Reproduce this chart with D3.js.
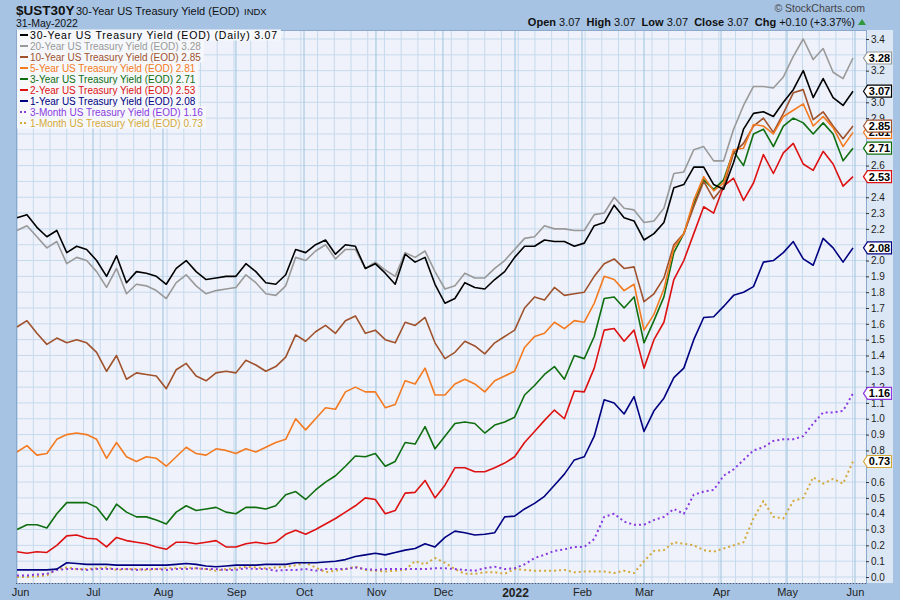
<!DOCTYPE html>
<html>
<head>
<meta charset="utf-8">
<script src="https://cdn.jsdelivr.net/npm/d3@7/dist/d3.min.js"></script>
<style>
  body { margin: 0; background: #a6c3e4; }
  svg { display: block; font-family: Arial, "Liberation Sans", sans-serif; }
</style>
</head>
<body>
<svg id="chart" width="900" height="600"></svg>
<script>
// Month labels and where they fall, in sample-index units (trading days / ~3)
const monthLabels = ['Jun', 'Jul', 'Aug', 'Sep', 'Oct', 'Nov', 'Dec', '2022', 'Feb', 'Mar', 'Apr', 'May', 'Jun'];
const monthPositions = [0, 7.64, 14.67, 22.0, 28.84, 36.07, 42.8, 50.04, 56.77, 63.0, 70.74, 77.37, 84.2];

const yTicks = [0.0, 0.1, 0.2, 0.3, 0.4, 0.5, 0.6, 0.7, 0.8, 0.9, 1.0, 1.1, 1.2, 1.3, 1.4, 1.5, 1.6, 1.7,
    1.8, 1.9, 2.0, 2.1, 2.2, 2.3, 2.4, 2.5, 2.6, 2.7, 2.8, 2.9, 3.0, 3.1, 3.2, 3.3, 3.4];

// Yields, Jun 2021 - May 2022, one reading roughly every third trading day
const y30 = [2.27, 2.29, 2.21, 2.15, 2.19, 2.05, 2.09, 2.07, 2.00, 1.90,
    2.03, 1.86, 1.93, 1.92, 1.90, 1.85, 1.95, 2.00, 1.93, 1.88,
    1.89, 1.90, 1.90, 1.98, 1.93, 1.86, 1.85, 1.91, 2.07, 2.05,
    2.10, 2.13, 2.04, 2.10, 2.09, 1.95, 1.98, 1.92, 1.85, 2.04,
    1.99, 2.02, 1.85, 1.73, 1.76, 1.86, 1.83, 1.82, 1.88, 1.93,
    2.02, 2.09, 2.09, 2.13, 2.12, 2.12, 2.09, 2.11, 2.22, 2.24,
    2.35, 2.27, 2.25, 2.13, 2.17, 2.24, 2.46, 2.48, 2.59, 2.59,
    2.48, 2.45, 2.62, 2.83, 2.93, 2.94, 2.91, 3.00, 3.08, 3.20,
    3.03, 3.15, 3.03, 2.98, 3.07];

const y20 = [2.19, 2.22, 2.15, 2.08, 2.12, 1.98, 2.02, 2.00, 1.93, 1.83,
    1.95, 1.79, 1.85, 1.84, 1.81, 1.76, 1.86, 1.91, 1.84, 1.79,
    1.81, 1.82, 1.83, 1.91, 1.86, 1.79, 1.78, 1.84, 2.02, 2.00,
    2.06, 2.10, 2.01, 2.07, 2.07, 1.95, 1.99, 1.94, 1.90, 2.05,
    2.02, 2.06, 1.93, 1.82, 1.84, 1.92, 1.89, 1.89, 1.95, 2.00,
    2.07, 2.14, 2.15, 2.22, 2.20, 2.20, 2.19, 2.19, 2.29, 2.30,
    2.40, 2.33, 2.32, 2.24, 2.25, 2.33, 2.55, 2.56, 2.70, 2.72,
    2.63, 2.63, 2.83, 2.98, 3.10, 3.10, 3.09, 3.16, 3.29, 3.40,
    3.27, 3.34, 3.19, 3.15, 3.28];

const y10 = [1.58, 1.62, 1.54, 1.47, 1.51, 1.48, 1.50, 1.48, 1.42, 1.30,
    1.40, 1.25, 1.29, 1.28, 1.27, 1.19, 1.31, 1.35, 1.27, 1.24,
    1.29, 1.30, 1.29, 1.37, 1.34, 1.30, 1.33, 1.39, 1.53, 1.49,
    1.55, 1.59, 1.54, 1.62, 1.65, 1.54, 1.56, 1.50, 1.48, 1.61,
    1.59, 1.64, 1.48, 1.38, 1.42, 1.49, 1.46, 1.41, 1.48, 1.52,
    1.56, 1.70, 1.77, 1.75, 1.83, 1.78, 1.79, 1.80, 1.90, 1.98,
    2.01, 1.95, 1.96, 1.74, 1.79, 1.89, 2.10, 2.17, 2.34, 2.50,
    2.39, 2.47, 2.68, 2.74, 2.85, 2.90, 2.81, 2.93, 3.06, 3.08,
    2.89, 2.94, 2.85, 2.77, 2.85];

const y5 = [0.79, 0.83, 0.77, 0.78, 0.87, 0.90, 0.91, 0.90, 0.87, 0.75,
    0.85, 0.76, 0.73, 0.76, 0.75, 0.70, 0.76, 0.82, 0.78, 0.77,
    0.81, 0.80, 0.78, 0.81, 0.79, 0.82, 0.85, 0.87, 1.00, 0.93,
    1.00, 1.07, 1.06, 1.17, 1.20, 1.17, 1.17, 1.07, 1.09, 1.24,
    1.22, 1.32, 1.15, 1.15, 1.22, 1.25, 1.22, 1.17, 1.24, 1.27,
    1.30, 1.45, 1.52, 1.54, 1.61, 1.57, 1.62, 1.61, 1.73, 1.90,
    1.88, 1.81, 1.85, 1.56, 1.66, 1.82, 2.08, 2.17, 2.38, 2.53,
    2.44, 2.49, 2.70, 2.71, 2.86, 2.85, 2.80, 2.91, 2.95, 2.99,
    2.85, 2.91, 2.84, 2.72, 2.81];

const y3 = [0.30, 0.33, 0.33, 0.31, 0.40, 0.47, 0.47, 0.47, 0.44, 0.36,
    0.46, 0.41, 0.38, 0.38, 0.36, 0.335, 0.41, 0.45, 0.42, 0.43,
    0.44, 0.41, 0.40, 0.44, 0.44, 0.43, 0.45, 0.52, 0.54, 0.49,
    0.55, 0.60, 0.64, 0.70, 0.765, 0.76, 0.78, 0.70, 0.73, 0.85,
    0.84, 0.95, 0.81, 0.89, 0.97, 0.98, 0.97, 0.91, 0.96, 0.98,
    1.01, 1.15, 1.21, 1.28, 1.33, 1.25, 1.40, 1.38, 1.52, 1.76,
    1.77, 1.70, 1.77, 1.48, 1.62, 1.77, 2.05, 2.17, 2.36, 2.51,
    2.45, 2.51, 2.69, 2.60, 2.80, 2.83, 2.72, 2.85, 2.90, 2.87,
    2.80, 2.87, 2.80, 2.63, 2.71];

const y2 = [0.16, 0.15, 0.16, 0.155, 0.20, 0.26, 0.265, 0.245, 0.24, 0.19,
    0.25, 0.23, 0.22, 0.21, 0.19, 0.175, 0.22, 0.22, 0.21, 0.22,
    0.23, 0.19, 0.19, 0.21, 0.22, 0.21, 0.22, 0.27, 0.295, 0.27,
    0.30, 0.335, 0.37, 0.41, 0.45, 0.50, 0.49, 0.40, 0.42, 0.53,
    0.535, 0.61, 0.50, 0.58, 0.69, 0.69, 0.665, 0.665, 0.69, 0.72,
    0.76, 0.85, 0.92, 0.99, 1.055, 1.00, 1.175, 1.17, 1.32, 1.56,
    1.57, 1.49, 1.56, 1.32, 1.50, 1.61, 1.88, 2.00, 2.17, 2.34,
    2.30, 2.47, 2.52, 2.38, 2.49, 2.67, 2.55, 2.68, 2.74, 2.61,
    2.57, 2.69, 2.61, 2.47, 2.53];

const y1 = [0.045, 0.045, 0.045, 0.045, 0.05, 0.09, 0.085, 0.08, 0.08, 0.08,
    0.075, 0.075, 0.075, 0.075, 0.075, 0.075, 0.08, 0.085, 0.08, 0.07,
    0.065, 0.07, 0.075, 0.075, 0.075, 0.08, 0.08, 0.08, 0.09, 0.09,
    0.09, 0.095, 0.10, 0.11, 0.13, 0.14, 0.15, 0.14, 0.155, 0.17,
    0.18, 0.21, 0.19, 0.25, 0.29, 0.28, 0.265, 0.27, 0.28, 0.38,
    0.385, 0.43, 0.465, 0.51, 0.58, 0.65, 0.74, 0.76, 0.89, 1.12,
    1.10, 1.03, 1.14, 0.92, 1.05, 1.13, 1.26, 1.32, 1.50, 1.64,
    1.645, 1.71, 1.78, 1.80, 1.835, 1.99, 2.00, 2.05, 2.12, 2.01,
    1.97, 2.14, 2.08, 1.99, 2.08];

const y3m = [0.01, 0.01, 0.015, 0.02, 0.045, 0.05, 0.05, 0.045, 0.05, 0.05,
    0.05, 0.05, 0.045, 0.05, 0.05, 0.045, 0.05, 0.05, 0.055, 0.05,
    0.05, 0.045, 0.045, 0.055, 0.05, 0.05, 0.04, 0.045, 0.045, 0.05,
    0.04, 0.05, 0.05, 0.05, 0.06, 0.05, 0.045, 0.05, 0.05, 0.05,
    0.05, 0.05, 0.055, 0.055, 0.05, 0.045, 0.04, 0.055, 0.065, 0.05,
    0.055, 0.08, 0.12, 0.14, 0.165, 0.175, 0.19, 0.19, 0.24, 0.38,
    0.40, 0.35, 0.33, 0.33, 0.36, 0.38, 0.43, 0.40, 0.52, 0.54,
    0.55, 0.64, 0.68, 0.74, 0.80, 0.82, 0.86, 0.87, 0.87, 0.89,
    0.97, 1.04, 1.04, 1.05, 1.16];

const y1m = [0.00, 0.00, 0.005, 0.01, 0.05, 0.06, 0.05, 0.05, 0.055, 0.06,
    0.045, 0.05, 0.05, 0.045, 0.05, 0.055, 0.055, 0.06, 0.055, 0.05,
    0.04, 0.05, 0.055, 0.065, 0.06, 0.055, 0.06, 0.065, 0.075, 0.09,
    0.06, 0.03, 0.04, 0.05, 0.065, 0.045, 0.04, 0.035, 0.04, 0.045,
    0.10, 0.08, 0.12, 0.09, 0.05, 0.02, 0.02, 0.03, 0.03, 0.02,
    0.05, 0.045, 0.04, 0.04, 0.04, 0.045, 0.03, 0.035, 0.035, 0.035,
    0.025, 0.04, 0.025, 0.10, 0.165, 0.17, 0.22, 0.21, 0.20, 0.17,
    0.16, 0.18, 0.20, 0.22, 0.37, 0.48, 0.38, 0.37, 0.48, 0.50,
    0.63, 0.59, 0.62, 0.59, 0.73];

const seriesNames = ['30-Year US Treasury Yield (EOD) (Daily)', '20-Year US Treasury Yield (EOD)',
    '10-Year US Treasury Yield (EOD)', '5-Year US Treasury Yield (EOD)', '3-Year US Treasury Yield (EOD)',
    '2-Year US Treasury Yield (EOD)', '1-Year US Treasury Yield (EOD)', '3-Month US Treasury Yield (EOD)',
    '1-Month US Treasury Yield (EOD)'];
const lastValues = ['3.07', '3.28', '2.85', '2.81', '2.71', '2.53', '2.08', '1.16', '0.73'];

// Styling per series, same order as the names
const series = [
    {values: y30, color: '#000000', dotted: false},
    {values: y20, color: '#999999', dotted: false},
    {values: y10, color: '#a0522d', dotted: false},
    {values: y5, color: '#f47a20', dotted: false},
    {values: y3, color: '#0f6e0f', dotted: false},
    {values: y2, color: '#dd1111', dotted: false},
    {values: y1, color: '#000080', dotted: false},
    {values: y3m, color: '#8a3ae0', dotted: true},
    {values: y1m, color: '#d4a838', dotted: true}
];
series.forEach((s, i) => { s.name = seriesNames[i]; s.last = lastValues[i]; });

const frame = '#a6c3e4';
const plot = {left: 16, right: 866, top: 30, bottom: 583};

const svg = d3.select('#chart');

const x = d3.scaleLinear().domain([0, y30.length - 1]).range([17, 853]);
const y = d3.scaleLinear().domain([0, 3.4]).range([577, 39]);

// Background, right label strip and plot area
svg.append('rect').attr('width', 900).attr('height', 600).attr('fill', frame);
svg.append('rect')
    .attr('x', plot.right).attr('y', plot.top)
    .attr('width', 27).attr('height', plot.bottom - plot.top)
    .attr('fill', '#dce7f5');
svg.append('rect')
    .attr('x', plot.left).attr('y', plot.top)
    .attr('width', plot.right - plot.left).attr('height', plot.bottom - plot.top)
    .attr('fill', '#eff2fa');

svg.append('clipPath').attr('id', 'plot-clip')
    .append('rect')
    .attr('x', plot.left).attr('y', plot.top)
    .attr('width', plot.right - plot.left).attr('height', plot.bottom - plot.top);

// Grid: every 0.1 across, weekly down, month lines a bit darker
const grid = svg.append('g').attr('clip-path', 'url(#plot-clip)');
grid.selectAll('line.h').data(yTicks).join('line')
    .attr('x1', plot.left).attr('x2', plot.right)
    .attr('y1', d => y(d)).attr('y2', d => y(d))
    .attr('stroke', '#c6daee').attr('stroke-width', 1);
grid.selectAll('line.w').data(d3.range(1.64, 84.5, 1.68)).join('line')
    .attr('x1', d => x(d)).attr('x2', d => x(d))
    .attr('y1', plot.top).attr('y2', plot.bottom)
    .attr('stroke', '#c6daee').attr('stroke-width', 1);
grid.selectAll('line.m').data(monthPositions).join('line')
    .attr('x1', d => x(d)).attr('x2', d => x(d))
    .attr('y1', plot.top).attr('y2', plot.bottom)
    .attr('stroke', '#9cc3df').attr('stroke-width', 1);

// Lines, drawn back to front
const line = d3.line().x((d, i) => x(i)).y(d => y(d));
const drawOrder = [8, 7, 6, 5, 4, 2, 3, 1, 0];
const lines = svg.append('g').attr('clip-path', 'url(#plot-clip)');
drawOrder.forEach(i => {
    const s = series[i];
    lines.append('path')
        .datum(s.values)
        .attr('d', line)
        .attr('fill', 'none')
        .attr('stroke', s.color)
        .attr('stroke-width', s.dotted ? 2 : 1.6)
        .attr('stroke-dasharray', s.dotted ? '2,3' : null)
        .attr('stroke-linejoin', 'round');
});

// Plot border and the dotted day-tick line at the bottom
svg.append('rect')
    .attr('x', plot.left + 0.5).attr('y', plot.top + 0.5)
    .attr('width', plot.right - plot.left).attr('height', plot.bottom - plot.top)
    .attr('fill', 'none').attr('stroke', '#8aa8cc');
svg.append('line')
    .attr('x1', plot.left).attr('x2', plot.right)
    .attr('y1', plot.bottom + 0.5).attr('y2', plot.bottom + 0.5)
    .attr('stroke', '#556').attr('stroke-dasharray', '1,2');

// Right axis; labels that sit under a last-value tag are hidden, as in the original
const tagPositions = lastValues.map(v => y(+v));
const visibleTicks = yTicks.filter(t => tagPositions.every(p => Math.abs(y(t) - p) > 6));
const yAxis = svg.append('g')
    .attr('transform', `translate(${plot.right},0)`)
    .call(d3.axisRight(y).tickValues(visibleTicks).tickFormat(d3.format('.1f')).tickSize(3).tickPadding(2));
yAxis.select('.domain').remove();
yAxis.selectAll('line').attr('stroke', '#333');
yAxis.selectAll('text').attr('font-size', 10).attr('fill', '#222')
    .attr('font-family', 'Arial, "Liberation Sans", sans-serif');

// Bottom axis
const xAxis = svg.append('g')
    .attr('transform', `translate(0,${plot.bottom})`)
    .call(d3.axisBottom(x).tickValues(monthPositions).tickFormat((d, i) => monthLabels[i]).tickSize(0).tickPadding(5));
xAxis.select('.domain').remove();
xAxis.selectAll('text')
    .attr('font-size', d => d === monthPositions[7] ? 12 : 11)
    .attr('font-weight', d => d === monthPositions[7] ? 'bold' : 'normal')
    .attr('fill', '#222')
    .attr('font-family', 'Arial, "Liberation Sans", sans-serif');
xAxis.selectAll('.tick').filter(d => d === 0)
    .select('text').attr('dx', 3);

// Last-value tags on the right axis, lower values first so higher ones sit on top
const tags = svg.append('g');
series.slice().sort((a, b) => +a.last - +b.last).forEach(s => {
    const cy = y(+s.last);
    const g = tags.append('g').attr('transform', `translate(0,${cy})`);
    g.append('path')
        .attr('d', 'M863.5,0 L867.5,-6 L891.5,-6 L891.5,6 L867.5,6 Z')
        .attr('fill', '#fff').attr('stroke', s.color).attr('stroke-width', 1.2);
    g.append('text')
        .attr('x', 879.5).attr('y', 4)
        .attr('text-anchor', 'middle')
        .attr('font-size', 11).attr('font-weight', 'bold').attr('fill', '#000')
        .text(s.last);
});

// Legend, top-left inside the plot
const legend = svg.append('g');
series.forEach((s, i) => {
    const cy = 35 + i * 11;
    const row = legend.append('g');
    const bg = row.append('rect');
    row.append('line')
        .attr('x1', 20).attr('x2', 28).attr('y1', cy).attr('y2', cy)
        .attr('stroke', s.color).attr('stroke-width', 2)
        .attr('stroke-dasharray', s.dotted ? '2,2' : null);
    const t = row.append('text')
        .attr('x', 30).attr('y', cy + 3.6)
        .attr('font-size', i === 0 ? 10.5 : 10)
        .attr('letter-spacing', i === 0 ? 0.8 : 0)
        .attr('fill', s.color)
        .text(`${s.name} ${s.last}`);
    const w = t.node().getComputedTextLength();
    bg.attr('x', 17).attr('y', cy - 5.5).attr('width', w + 16).attr('height', 11)
        .attr('fill', '#f6f8fc');
});

// Header
const header = svg.append('g');
header.append('text').attr('x', 16).attr('y', 15)
    .attr('font-size', 13.5).attr('font-weight', 'bold').attr('fill', '#111').text('$UST30Y');
header.append('text').attr('x', 76).attr('y', 15)
    .attr('font-size', 11).attr('fill', '#111').text('30-Year US Treasury Yield (EOD)');
header.append('text').attr('x', 244).attr('y', 15)
    .attr('font-size', 9.5).attr('fill', '#111').text('INDX');
header.append('text').attr('x', 16).attr('y', 27)
    .attr('font-size', 10.5).attr('fill', '#111').text('31-May-2022');
header.append('text').attr('x', 865).attr('y', 12).attr('text-anchor', 'end')
    .attr('font-size', 10.5).attr('fill', '#444').text('\u00A9 StockCharts.com');

const quote = header.append('text').attr('x', 855).attr('y', 26).attr('text-anchor', 'end')
    .attr('font-size', 11).attr('fill', '#111').attr('xml:space', 'preserve');
[['Open', ' 3.07  '], ['High', ' 3.07  '], ['Low', ' 3.07  '], ['Close', ' 3.07  '], ['Chg', ' +0.10 (+3.37%)']]
    .forEach(([label, value]) => {
        quote.append('tspan').attr('font-weight', 'bold').text(label);
        quote.append('tspan').text(value);
    });
header.append('path')
    .attr('d', 'M858,25 L862,19 L866,25 Z')
    .attr('fill', '#2f9a3a');
</script>
</body>
</html>
